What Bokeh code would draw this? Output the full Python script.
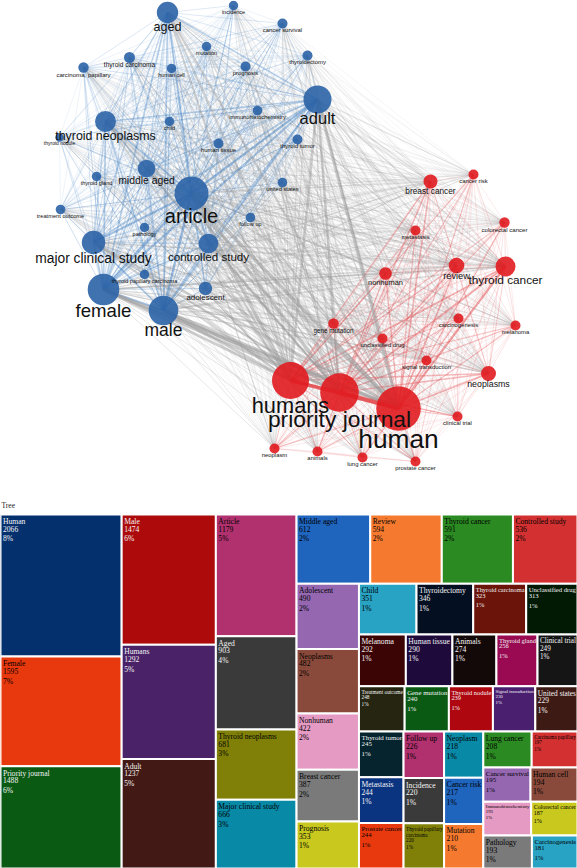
from bokeh.plotting import figure
from bokeh.models import Range1d, ColumnDataSource
from bokeh.layouts import column
from bokeh.embed import file_html
from bokeh.resources import INLINE
from bokeh.core.properties import value

# ---------------- Network data (layout coordinates, node weight = radius) ----------------
node_names = [
    "aged", "incidence", "cancer survival", "mutation", "thyroid carcinoma",
    "carcinoma, papillary", "human cell", "prognosis", "thyroidectomy", "adult",
    "thyroid neoplasms", "child", "immunohistochemistry", "thyroid nodule", "human tissue",
    "thyroid tumor", "middle aged", "thyroid gland", "united states", "article",
    "treatment outcome", "follow up", "pathology", "major clinical study", "controlled study",
    "thyroid papillary carcinoma", "female", "adolescent", "male",
    "breast cancer", "cancer risk", "colorectal cancer", "metastasis", "review",
    "thyroid cancer", "nonhuman", "carcinogenesis", "melanoma", "gene mutation",
    "unclassified drug", "signal transduction", "neoplasms", "humans", "priority journal",
    "human", "clinical trial", "neoplasm", "animals", "lung cancer", "prostate cancer",
]
node_x = [
    167, 233, 282, 206, 129, 83, 171, 245, 307, 317,
    105, 169, 257, 59, 218, 297, 146, 96, 282, 191,
    60, 250, 144, 93, 208, 144, 103, 205, 163,
    430, 473, 504, 415, 456, 505, 385, 458, 515, 333,
    382, 426, 488, 290, 339, 398, 457, 274, 317, 362, 415,
]
node_y = [
    12, 5, 23, 46, 57, 67, 68, 66, 55, 99,
    121, 121, 110, 137, 143, 139, 168, 176, 182, 193,
    209, 217, 227, 242, 243, 274, 289, 288, 310,
    181, 174, 222, 230, 265, 266, 273, 318, 325, 323,
    338, 360, 373, 380, 392, 408, 416, 448, 451, 457, 461,
]
node_weight = [
    10.7, 4.7, 5.0, 4.7, 5.5, 5.2, 4.7, 5.0, 5.0, 14.0,
    10.5, 4.7, 4.8, 4.2, 5.0, 5.0, 8.8, 4.7, 4.8, 17.0,
    4.8, 4.8, 4.7, 11.7, 9.8, 4.7, 15.8, 6.7, 14.8,
    7.0, 5.0, 5.2, 5.0, 7.8, 10.0, 6.3, 5.0, 5.0, 5.3,
    5.0, 5.0, 7.5, 18.5, 19.3, 22.3, 5.0, 5.0, 5.0, 5.0, 5.0,
]
node_cluster = [0] * 29 + [1] * 21

# ---------------- Treemap data ----------------
tree_names = [
    "Human", "Female", "Priority journal", "Male", "Humans", "Adult", "Article", "Aged",
    "Thyroid neoplasms", "Major clinical study", "Middle aged", "Review", "Thyroid cancer",
    "Controlled study", "Adolescent", "Neoplasms", "Nonhuman", "Breast cancer", "Prognosis",
    "Child", "Thyroidectomy", "Thyroid carcinoma", "Unclassified drug", "Melanoma",
    "Human tissue", "Animals", "Thyroid gland", "Clinical trial", "Treatment outcome",
    "Gene mutation", "Thyroid nodule", "Signal transduction", "United states", "Thyroid tumor",
    "Metastasis", "Prostate cancer", "Follow up", "Incidence", "Thyroid papillary carcinoma",
    "Neoplasm", "Cancer risk", "Mutation", "Lung cancer", "Carcinoma papillary",
    "Cancer survival", "Human cell", "Immunohistochemistry", "Colorectal cancer",
    "Pathology", "Carcinogenesis",
]
tree_values = [
    2066, 1595, 1488, 1474, 1292, 1237, 1179, 903, 681, 666,
    612, 594, 591, 536, 490, 482, 422, 387, 353, 351,
    346, 323, 313, 292, 290, 274, 256, 249, 248, 240,
    239, 230, 229, 245, 244, 244, 226, 220, 220, 218,
    217, 210, 208, 197, 195, 194, 193, 187, 193, 181,
]
tree_colors = [
    "#05306e", "#e8380d", "#0b5a14", "#ad0b0b", "#4a2268", "#421915", "#b0316e", "#3a3a3a",
    "#808009", "#0889a6", "#1f64bd", "#f57a2f", "#2b8b22", "#d33131", "#9467b0", "#8a4a3b",
    "#e59ac4", "#7a7a7a", "#c8c81f", "#29a3c3", "#040f22", "#6a140a", "#021a04", "#3b0505",
    "#1f0a3c", "#140909", "#990a52", "#151515", "#252511", "#0b5a14", "#af0710", "#4a1f70",
    "#3e1a14", "#06242e", "#0a3380", "#e8380d", "#b0316e", "#3a3a3a", "#808009", "#0889a6",
    "#1f64bd", "#f57a2f", "#2b8b22", "#d33131", "#9467b0", "#8a4a3b", "#e59ac4", "#c8c81f",
    "#7a7a7a", "#29a3c3",
]
# strip structure of the squarified layout: (orientation, number of tiles)
tree_strips = [("col", 3), ("col", 3), ("col", 4), ("row", 4), ("col", 5), ("row", 4),
               ("row", 5), ("row", 5), ("col", 3), ("col", 3), ("col", 3),
               ("row", 2), ("row", 2), ("row", 2), ("row", 2)]

W = 577
H1 = 496
H2 = 372

# ---------------- Network figure ----------------
p1 = figure(width=W, height=H1, x_range=Range1d(0, W), y_range=Range1d(H1, 0),
            output_backend="svg", toolbar_location=None, x_axis_type=None,
            y_axis_type=None, min_border=0)
p1.outline_line_color = None
p1.grid.visible = False
p1.background_fill_color = "white"
p1.border_fill_color = "white"

n = len(node_names)
maxw = max(node_weight) * sorted(node_weight)[-2]
edges = []
for i in range(n):
    for j in range(i + 1, n):
        w = node_weight[i] * node_weight[j]
        if node_cluster[i] == node_cluster[j]:
            col = "#4a86c5" if node_cluster[i] == 0 else "#e2474b"
            a = 0.2 + 0.5 * w / maxw
        else:
            col = "#999999"
            a = 0.17 + 0.45 * w / maxw
        edges.append((w, node_x[i], node_y[i], node_x[j], node_y[j], col, a, 0.25 + 3.7 * w / maxw))
edges.sort(key=lambda e: e[0])
esrc = ColumnDataSource(dict(
    x0=[e[1] for e in edges], y0=[e[2] for e in edges],
    x1=[e[3] for e in edges], y1=[e[4] for e in edges],
    ecol=[e[5] for e in edges], ealpha=[e[6] for e in edges], ewidth=[e[7] for e in edges]))
p1.segment(x0="x0", y0="y0", x1="x1", y1="y1", line_color="ecol", line_alpha="ealpha",
           line_width="ewidth", source=esrc)

nsrc = ColumnDataSource(dict(
    x=node_x, y=node_y, r=node_weight,
    ncol=["#2b63a6" if c == 0 else "#e01b1f" for c in node_cluster]))
p1.circle(x="x", y="y", radius="r", fill_color="ncol", fill_alpha=0.9, line_color=None, source=nsrc)

lsrc = ColumnDataSource(dict(
    x=node_x,
    y=[yy + 1.35 * r for yy, r in zip(node_y, node_weight)],
    t=node_names,
    fs=["%.1fpx" % (1.18 * r) for r in node_weight]))
p1.text(x="x", y="y", text="t", text_font_size="fs", text_font=value("Liberation Sans"),
        text_color="#111111", text_align="center", text_baseline="middle", source=lsrc)

# ---------------- Treemap figure ----------------
p2 = figure(width=W, height=H2, x_range=Range1d(0, W), y_range=Range1d(H2, 0),
            output_backend="svg", toolbar_location=None, x_axis_type=None,
            y_axis_type=None, min_border=0)
p2.outline_line_color = None
p2.grid.visible = False
p2.background_fill_color = "white"
p2.border_fill_color = "white"


def strip_layout(values, strips, x, y, w, h):
    rects = []
    idx = 0
    remaining = float(sum(values))
    for orient, count in strips:
        vals = values[idx:idx + count]
        s = float(sum(vals))
        if orient == "col":
            sw = w * s / remaining
            yy = y
            for v in vals:
                hh = h * v / s
                rects.append((x, yy, sw, hh))
                yy += hh
            x += sw
            w -= sw
        else:
            sh = h * s / remaining
            xx = x
            for v in vals:
                ww = w * v / s
                rects.append((xx, y, ww, sh))
                xx += ww
            y += sh
            h -= sh
        remaining -= s
        idx += count
    return rects


TOP = 18
rects = strip_layout(tree_values, tree_strips, 0, TOP, W, H2 - TOP)
p2.quad(left=[r[0] for r in rects], right=[r[0] + r[2] for r in rects],
        top=[r[1] for r in rects], bottom=[r[1] + r[3] for r in rects],
        fill_color=tree_colors, line_color="white", line_width=2)

TW = {" ": 250, "%": 833}
for ch, wv in zip("abcdefghijklmnopqrstuvwxyz",
                  [444, 500, 444, 500, 444, 333, 500, 500, 278, 278, 500, 278, 778,
                   500, 500, 500, 500, 333, 389, 278, 500, 500, 722, 500, 500, 444]):
    TW[ch] = wv
for ch, wv in zip("ABCDEFGHIJKLMNOPQRSTUVWXYZ",
                  [722, 667, 667, 722, 611, 556, 722, 722, 333, 389, 722, 611, 889,
                   722, 722, 556, 722, 667, 556, 611, 722, 722, 944, 722, 722, 611]):
    TW[ch] = wv
for ch in "0123456789":
    TW[ch] = 500


def em(s):
    return sum(TW.get(c, 500) for c in s) / 1000.0


total = float(sum(tree_values))
tx, ty, tt, tfs, tc = [], [], [], [], []
BASE = 7.6
for name, v, col, (x, y, w, h) in zip(tree_names, tree_values, tree_colors, rects):
    avail = w - 4
    f = min(BASE, avail / em(name))
    lines = [name]
    if f < 4.5 and " " in name:
        words = name.split(" ")
        best = None
        for k in range(1, len(words)):
            a, b = " ".join(words[:k]), " ".join(words[k:])
            m = max(em(a), em(b))
            if best is None or m < best[0]:
                best = (m, a, b)
        lines = [best[1], best[2]]
        f = min(5.3, avail / best[0])
    pct = int(v * 100.0 / total + 0.5)
    lines = lines + [str(v), "%d%%" % pct]
    rr, gg, bb = int(col[1:3], 16), int(col[3:5], 16), int(col[5:7], 16)
    luma = 0.299 * rr + 0.587 * gg + 0.114 * bb
    txtc = "#f4f4f4" if luma < 75 else "#000000"
    lh = f * 1.15
    for k, line in enumerate(lines):
        tx.append(x + 2.5)
        ty.append(y + 2.5 + k * lh)
        tt.append(line)
        tfs.append("%.2fpx" % f)
        tc.append(txtc)

tsrc = ColumnDataSource(dict(x=tx, y=ty, t=tt, fs=tfs, tcol=tc))
p2.text(x="x", y="y", text="t", text_font_size="fs", text_color="tcol",
        text_font=value("Liberation Serif"), text_align="left", text_baseline="top",
        source=tsrc)
p2.text(x=[1], y=[9], text=["Tree"], text_font_size="7.5px", text_color="#222222",
        text_font=value("Liberation Serif"), text_align="left", text_baseline="middle")

layout = column(p1, p2, spacing=0)
open("out.html", "w").write(file_html(layout, INLINE))
